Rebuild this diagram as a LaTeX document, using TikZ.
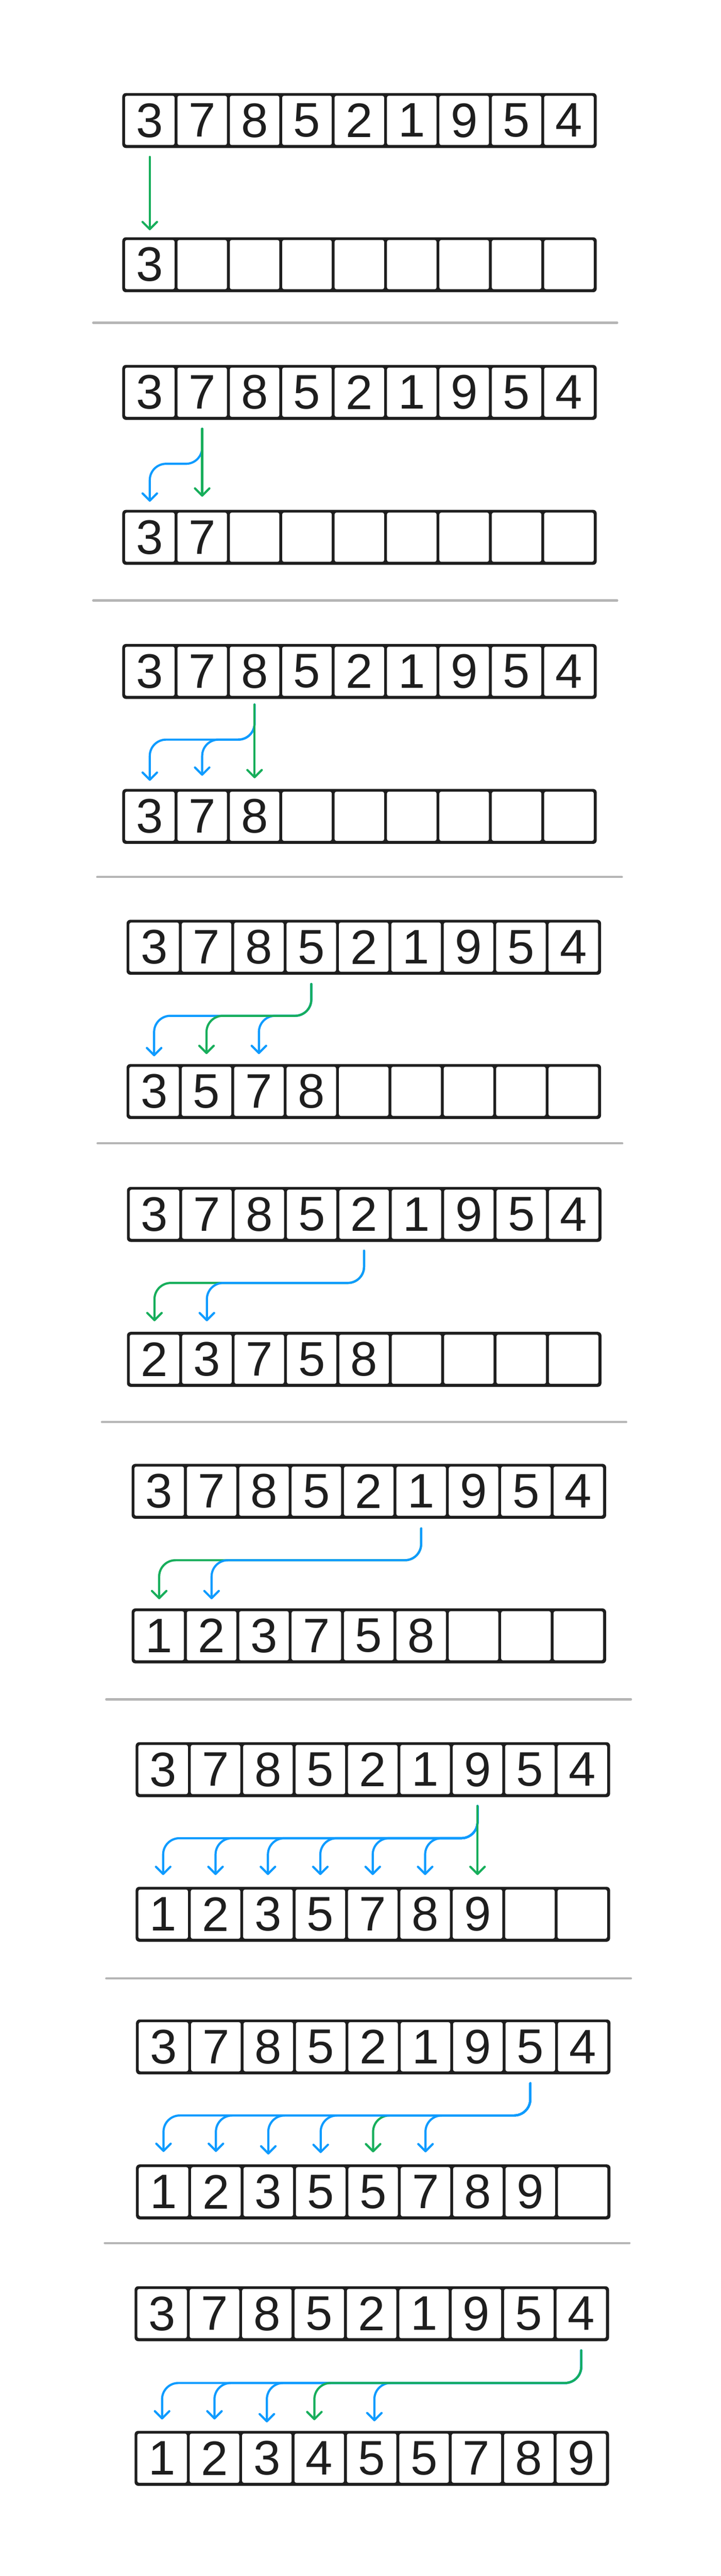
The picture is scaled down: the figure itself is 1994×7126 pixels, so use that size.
\documentclass[tikz,border=0pt]{standalone}
\usepackage{fontspec}
\setmainfont{Liberation Sans}
\usetikzlibrary{arrows.meta}
\definecolor{ink}{HTML}{1E1E1E}
\definecolor{grn}{HTML}{17AE5B}
\definecolor{blu}{HTML}{0E9BFF}
\definecolor{sepc}{HTML}{B5B5B5}
\tikzset{
  framebox/.style={fill=ink, draw=none, rounded corners=5pt, inner sep=0pt, anchor=north west,
    minimum width=656.5pt, minimum height=76pt},
  cellbox/.style={fill=white, draw=none, rounded corners=2.5pt, inner sep=0pt,
    minimum width=68.5pt, minimum height=68pt, text=ink, font=\fontsize{67}{67}\selectfont},
  conn/.style={line width=3pt, line cap=round, line join=round, rounded corners=22.5pt,
    -{Straight Barb[length=10pt,width=20pt,round]}},
  gconn/.style={conn, draw=grn},
  bconn/.style={conn, draw=blu},
  sepline/.style={draw=sepc, line width=3pt, line cap=round},
}
% #1 name, #2 left, #3 top, #4 digits
\newcommand\cellrow[4]{%
  \node[framebox] (#1) at ({#2-1},#3) {};
  \foreach \d [count=\i from 0] in {#4} {
    \node[cellbox] (#1-\i) at ({#2+75.5+145*\i},{#3+76}) {\d};
  }}
% #1 style, #2 name, #3 xs, #4 ys, #5 yh, #6 xt, #7 yt
\newcommand\bentconn[7]{%
  \coordinate (#2s) at (#3,#4);
  \coordinate (#2h) at (#6,#5);
  \coordinate (#2e) at (#6,#7);
  \draw[#1] (#2s) |- (#2h) -- (#2e);}
% #1 style, #2 name, #3 x, #4 ys, #5 yt
\newcommand\straightconn[5]{%
  \coordinate (#2s) at (#3,#4);
  \coordinate (#2e) at (#3,#5);
  \draw[#1] (#2s) -- (#2e);}
% #1 name, #2 x1, #3 x2, #4 y
\newcommand\sepl[4]{%
  \coordinate (#1a) at (#2,#4);
  \coordinate (#1b) at (#3,#4);
  \draw[sepline] (#1a) -- (#1b);}
\begin{document}
\begin{tikzpicture}[x=0.5pt,y=-0.5pt]
\fill[white] (0,0) rectangle (1994,7126);
\useasboundingbox (0,0) rectangle (1994,7126);

% ---------- panel 1
\cellrow{pAt}{339}{257}{3,7,8,5,2,1,9,5,4}
\cellrow{pAb}{339}{656}{3,{},{},{},{},{},{},{},{}}
\straightconn{gconn}{a1}{414.5}{434}{637}
\sepl{sA}{258}{1708}{893}

% ---------- panel 2
\cellrow{pBt}{339}{1009}{3,7,8,5,2,1,9,5,4}
\cellrow{pBb}{339}{1410}{3,7,{},{},{},{},{},{},{}}
\bentconn{bconn}{b1}{559.5}{1186}{1283}{414.5}{1388}
\straightconn{gconn}{b2}{559.5}{1186}{1374}
\sepl{sB}{258}{1708}{1661}

% ---------- panel 3
\cellrow{pCt}{339}{1781}{3,7,8,5,2,1,9,5,4}
\cellrow{pCb}{339}{2182}{3,7,8,{},{},{},{},{},{}}
\bentconn{bconn}{c1}{704.5}{1949}{2046}{414.5}{2160}
\bentconn{bconn}{c2}{704.5}{1949}{2046}{559.5}{2146}
\straightconn{gconn}{c3}{704.5}{1949}{2153}
\sepl{sC}{269}{1721}{2426}

% ---------- panel 4
\cellrow{pDt}{351}{2544}{3,7,8,5,2,1,9,5,4}
\cellrow{pDb}{351}{2943}{3,5,7,8,{},{},{},{},{}}
\bentconn{bconn}{d1}{861.5}{2722}{2810}{426.5}{2922}
\bentconn{bconn}{d3}{861.5}{2722}{2810}{716.5}{2916}
\bentconn{gconn}{d2}{861.5}{2722}{2810}{571.5}{2916}
\sepl{sD}{270}{1722}{3163}

% ---------- panel 5
\cellrow{pEt}{352}{3283}{3,7,8,5,2,1,9,5,4}
\cellrow{pEb}{352}{3684}{2,3,7,5,8,{},{},{},{}}
\bentconn{gconn}{e1}{1007.5}{3460}{3549}{427.5}{3655}
\bentconn{bconn}{e2}{1007.5}{3460}{3549}{572.5}{3655}
\sepl{sE}{282}{1733}{3934}

% ---------- panel 6
\cellrow{pFt}{365}{4049}{3,7,8,5,2,1,9,5,4}
\cellrow{pFb}{365}{4449}{1,2,3,7,5,8,{},{},{}}
\bentconn{gconn}{f1}{1165.5}{4228}{4316}{440.5}{4424}
\bentconn{bconn}{f2}{1165.5}{4228}{4316}{585.5}{4424}
\sepl{sF}{294}{1746}{4701}

% ---------- panel 7
\cellrow{pGt}{376}{4819}{3,7,8,5,2,1,9,5,4}
\cellrow{pGb}{376}{5219}{1,2,3,5,7,8,9,{},{}}
\bentconn{bconn}{g1}{1321.5}{4996}{5085}{451.5}{5187}
\bentconn{bconn}{g2}{1321.5}{4996}{5085}{596.5}{5187}
\bentconn{bconn}{g3}{1321.5}{4996}{5085}{741.5}{5187}
\bentconn{bconn}{g4}{1321.5}{4996}{5085}{886.5}{5187}
\bentconn{bconn}{g5}{1321.5}{4996}{5085}{1031.5}{5187}
\bentconn{bconn}{g6}{1321.5}{4996}{5085}{1176.5}{5187}
\straightconn{gconn}{g7}{1321.5}{4996}{5187}
\sepl{sG}{294}{1746}{5473}

% ---------- panel 8
\cellrow{pHt}{377}{5586}{3,7,8,5,2,1,9,5,4}
\cellrow{pHb}{377}{5987}{1,2,3,5,5,7,8,9,{}}
\bentconn{gconn}{h5}{1467.5}{5763}{5852}{1032.5}{5954}
\bentconn{bconn}{h1}{1467.5}{5763}{5852}{452.5}{5953}
\bentconn{bconn}{h2}{1467.5}{5763}{5852}{597.5}{5953}
\bentconn{bconn}{h3}{1467.5}{5763}{5852}{742.5}{5960}
\bentconn{bconn}{h4}{1467.5}{5763}{5852}{887.5}{5956}
\bentconn{bconn}{h6}{1467.5}{5763}{5852}{1177.5}{5954}
\sepl{sH}{290}{1742}{6205}

% ---------- panel 9
\cellrow{pIt}{373}{6324}{3,7,8,5,2,1,9,5,4}
\cellrow{pIb}{373}{6724}{1,2,3,4,5,5,7,8,9}
\bentconn{bconn}{i1}{1608.5}{6502}{6592}{448.5}{6693}
\bentconn{bconn}{i2}{1608.5}{6502}{6592}{593.5}{6693}
\bentconn{bconn}{i3}{1608.5}{6502}{6592}{738.5}{6701}
\bentconn{bconn}{i5}{1608.5}{6502}{6592}{1036}{6698}
\bentconn{gconn}{i4}{1608.5}{6502}{6592}{870}{6695}
\end{tikzpicture}
\end{document}
